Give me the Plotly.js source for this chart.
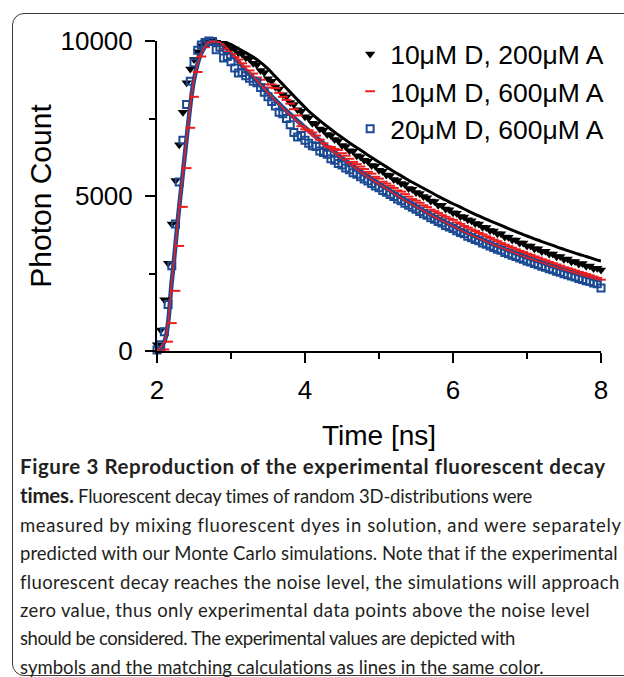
<!DOCTYPE html>
<html>
<head>
<meta charset="utf-8">
<script src="https://cdn.plot.ly/plotly-3.0.1.min.js"></script>
<style>
  html, body { margin: 0; padding: 0; background: #fff; }
  body { width: 624px; height: 677px; position: relative; overflow: hidden; }
  #frame { position: absolute; left: 12px; top: 13px; width: 640px; height: 663px;
           border: 1.5px solid #3a3a3a; border-radius: 12px; box-sizing: border-box; }
  #chart { position: absolute; left: 0; top: 0; width: 624px; height: 460px; }
  #caption { position: absolute; left: 20px; top: 452px; font-family: Lato, "Open Sans", sans-serif;
             font-size: 18.5px; line-height: 28.4px; color: #231f20; white-space: nowrap; }
  #caption .ln { display: block; width: max-content; }
  #caption b { font-weight: 700; font-size: 20.5px; }
</style>
</head>
<body>
<div id="frame"></div>
<div id="chart"></div>
<div id="caption">
<span class="ln"><b>Figure 3 Reproduction of the experimental fluorescent decay</b></span>
<span class="ln"><b>times.</b> Fluorescent decay times of random 3D-distributions were</span>
<span class="ln">measured by mixing fluorescent dyes in solution, and were separately</span>
<span class="ln">predicted with our Monte Carlo simulations. Note that if the experimental</span>
<span class="ln">fluorescent decay reaches the noise level, the simulations will approach</span>
<span class="ln">zero value, thus only experimental data points above the noise level</span>
<span class="ln">should be considered. The experimental values are depicted with</span>
<span class="ln">symbols and the matching calculations as lines in the same color.</span>
</div>
<script>
// Series names
const seriesNames = ["10\u03bcM D, 200\u03bcM A", "10\u03bcM D, 600\u03bcM A", "20\u03bcM D, 600\u03bcM A"];

// Time grid of the measured points [ns]
const timePts = [2.00,2.05,2.10,2.15,2.20,2.25,2.30,2.35,2.40,2.45,2.50,2.55,2.60,2.65,2.70,2.75,2.80,2.85,2.90,2.95,
3.00,3.05,3.10,3.15,3.20,3.25,3.30,3.35,3.40,3.45,3.50,3.55,3.60,3.65,3.70,3.75,3.80,3.85,3.90,3.95,
4.00,4.05,4.10,4.15,4.20,4.25,4.30,4.35,4.40,4.45,4.50,4.55,4.60,4.65,4.70,4.75,4.80,4.85,4.90,4.95,
5.00,5.05,5.10,5.15,5.20,5.25,5.30,5.35,5.40,5.45,5.50,5.55,5.60,5.65,5.70,5.75,5.80,5.85,5.90,5.95,
6.00,6.05,6.10,6.15,6.20,6.25,6.30,6.35,6.40,6.45,6.50,6.55,6.60,6.65,6.70,6.75,6.80,6.85,6.90,6.95,
7.00,7.05,7.10,7.15,7.20,7.25,7.30,7.35,7.40,7.45,7.50,7.55,7.60,7.65,7.70,7.75,7.80,7.85,7.90,7.95,8.00];

// Experimental photon counts (symbols)
const exp10D200A = [200,680,1650,2830,4100,5500,6650,7700,8650,9100,9400,9650,9850,9950,10000,9990,9960,9930,9880,9860,
9760,9740,9620,9580,9460,9420,9280,9230,9050,8980,8780,8700,8520,8450,8270,8200,8020,7950,7780,7730,
7560,7520,7350,7320,7160,7120,6980,6950,6820,6780,6630,6600,6460,6440,6300,6270,6150,6120,5980,5970,
5830,5800,5680,5660,5530,5500,5400,5370,5240,5220,5110,5080,4980,4940,4840,4820,4700,4700,4580,4560,
4460,4440,4340,4320,4230,4200,4110,4100,3990,3980,3890,3870,3780,3780,3680,3670,3580,3580,3480,3480,
3390,3390,3300,3300,3210,3220,3130,3130,3040,3050,2960,2970,2880,2890,2810,2820,2730,2740,2660,2670,2610];

const exp10D600A = [0,0,50,300,900,1940,3390,4650,5900,7200,8200,9000,9500,9800,9950,10000,9950,9850,9750,9650,
9580,9480,9400,9280,9180,9050,8950,8820,8750,8600,8500,8600,8480,8330,8200,8100,7980,7800,7600,7250,
7150,7120,7050,6950,6820,6700,6600,6580,6520,6480,6380,6300,6200,6100,6030,5950,5870,5780,5720,5620,
5560,5460,5400,5330,5260,5180,5140,5060,4980,4900,4850,4780,4700,4640,4560,4510,4450,4380,4330,4270,
4230,4150,4100,4030,3980,3920,3870,3810,3760,3700,3650,3590,3540,3480,3430,3380,3330,3280,3230,3190,
3140,3100,3050,3010,2960,2920,2870,2830,2790,2750,2700,2670,2630,2590,2550,2520,2480,2440,2400,2360,2300];

const exp20D600A = [30,200,620,1500,2750,4100,5450,6800,7950,8700,9300,9700,9870,9950,10000,9980,9720,9800,9450,9500,
9330,9130,8970,8980,8880,8800,8700,8650,8500,8350,8200,8050,7900,7700,7650,7500,7300,7050,6900,6950,
6800,6700,6620,6600,6450,6400,6350,6200,6150,6050,6000,5900,5850,5750,5700,5620,5550,5480,5400,5320,
5270,5180,5120,5050,4980,4900,4850,4770,4700,4640,4570,4500,4430,4380,4300,4250,4180,4130,4050,4000,
3950,3880,3820,3780,3700,3650,3600,3560,3480,3440,3390,3340,3280,3250,3180,3140,3090,3050,3000,2960,
2900,2870,2820,2780,2730,2700,2650,2620,2570,2540,2490,2460,2420,2390,2340,2310,2270,2240,2190,2170,2030];

// Time grid of the simulations [ns]
const timeSim = [2.0,2.1,2.2,2.3,2.4,2.5,2.6,2.7,2.8,2.9,3.0,3.1,3.2,3.3,3.4,3.5,3.6,3.7,3.8,3.9,
4.0,4.1,4.2,4.3,4.4,4.5,4.6,4.7,4.8,4.9,5.0,5.1,5.2,5.3,5.4,5.5,5.6,5.7,5.8,5.9,
6.0,6.1,6.2,6.3,6.4,6.5,6.6,6.7,6.8,6.9,7.0,7.1,7.2,7.3,7.4,7.5,7.6,7.7,7.8,7.9,8.0];

// Monte Carlo simulations (lines)
const sim10D200A = [0,300,2300,4700,6900,8800,9650,9970,10000,9980,9880,9750,9620,9480,9310,9100,8850,8600,8350,8100,
7860,7630,7430,7240,7060,6890,6720,6560,6400,6240,6090,5940,5790,5650,5510,5380,5250,5120,4990,4870,
4750,4640,4520,4410,4300,4200,4100,4000,3900,3800,3710,3620,3530,3450,3360,3280,3200,3120,3050,2970,2900];

const sim10D600A = [0,300,2250,4650,6850,8750,9620,9950,10000,9880,9640,9380,9110,8860,8590,8330,8080,7840,7610,7390,
7180,6970,6770,6570,6390,6200,6030,5860,5690,5530,5380,5230,5080,4930,4790,4650,4520,4380,4260,4140,
4020,3900,3790,3680,3580,3480,3380,3290,3190,3100,3010,2930,2850,2770,2690,2620,2550,2480,2410,2340,2280];

const sim20D600A = [0,300,2250,4650,6850,8750,9620,9950,10000,9850,9600,9330,9060,8820,8570,8330,8090,7860,7640,7420,
7210,7000,6800,6600,6420,6230,6060,5880,5720,5560,5400,5250,5100,4950,4810,4670,4530,4390,4270,4150,
4030,3910,3800,3690,3590,3480,3380,3290,3190,3100,3010,2930,2850,2770,2690,2610,2540,2470,2400,2330,2270];

const xTickVals = [2, 4, 6, 8];
const xTickText = ["2", "4", "6", "8"];
const yTickVals = [0, 5000, 10000];
const yTickText = ["0", "5000", "10000"];

const cBlack = "#000000", cRed = "#ee1c1c", cBlue = "#1b4a93";
const fontMain = "Liberation Sans, Arial, sans-serif";

const traces = [
  { x: timeSim, y: sim10D200A, mode: "lines", line: { color: cBlack, width: 3, shape: "spline" }, showlegend: false, cliponaxis: false },
  { x: timeSim, y: sim20D600A, mode: "lines", line: { color: cBlue, width: 4.5, shape: "spline" }, showlegend: false, cliponaxis: false },
  { x: timePts, y: exp10D200A, name: seriesNames[0], mode: "markers", cliponaxis: false,
    marker: { symbol: "triangle-down", size: 9, color: cBlack } },
  { x: timePts, y: exp10D600A, name: seriesNames[1], mode: "markers", cliponaxis: false,
    marker: { symbol: "line-ew", size: 7, color: cRed, line: { color: cRed, width: 2 } } },
  { x: timePts, y: exp20D600A, name: seriesNames[2], mode: "markers", cliponaxis: false,
    marker: { symbol: "square-open", size: 7, color: cBlue, line: { color: cBlue, width: 2 } } },
  { x: timeSim, y: sim10D600A, mode: "lines", line: { color: cRed, width: 1.5, shape: "spline" }, showlegend: false, cliponaxis: false }
];

const layout = {
  width: 624, height: 460,
  margin: { l: 157, r: 23, t: 41, b: 109 },
  paper_bgcolor: "rgba(0,0,0,0)", plot_bgcolor: "rgba(0,0,0,0)",
  font: { family: fontMain, color: "#000", size: 26 },
  showlegend: true,
  legend: { x: 0.435, xanchor: "left", y: 1.035, yanchor: "top", bgcolor: "rgba(0,0,0,0)",
            font: { family: fontMain, size: 26.5, color: "#000" }, itemwidth: 30, tracegroupgap: 0 },
  xaxis: {
    range: [2, 8], showgrid: false, zeroline: false, showline: true, linecolor: "#000", linewidth: 2,
    tickmode: "array", tickvals: xTickVals, ticktext: xTickText, ticks: "outside", ticklen: 10, tickwidth: 2, tickcolor: "#000",
    tickfont: { size: 26 }, ticklabelstandoff: 5,
    minor: { dtick: 1, ticks: "outside", ticklen: 6, tickwidth: 2, tickcolor: "#000", showgrid: false },
    title: { text: "Time [ns]", font: { size: 28 }, standoff: 21 }
  },
  yaxis: {
    range: [0, 10000], showgrid: false, zeroline: false, showline: true, linecolor: "#000", linewidth: 2,
    tickmode: "array", tickvals: yTickVals, ticktext: yTickText, ticks: "outside", ticklen: 10, tickwidth: 2, tickcolor: "#000",
    tickfont: { size: 26 }, ticklabelstandoff: 7,
    minor: { dtick: 2500, ticks: "outside", ticklen: 6, tickwidth: 2, tickcolor: "#000", showgrid: false },
    title: { text: "Photon Count", font: { size: 30 }, standoff: 0 }
  }
};

Plotly.newPlot("chart", traces, layout, { displayModeBar: false, staticPlot: true });

// Fit each caption line to the width it spans in the reference (right edge, px from page left)
const captionRight = [606, 533, 622, 618, 620, 590, 515, 544];
function fitCaption() {
  const lines = document.querySelectorAll("#caption .ln");
  lines.forEach((el, i) => {
    el.style.letterSpacing = "0px";
    const natural = el.getBoundingClientRect().width;
    const target = captionRight[i] - 20;
    const n = el.textContent.length;
    el.style.letterSpacing = ((target - natural) / n).toFixed(3) + "px";
  });
}
if (document.fonts && document.fonts.ready) { document.fonts.ready.then(fitCaption); } else { fitCaption(); }
fitCaption();
</script>
</body>
</html>
